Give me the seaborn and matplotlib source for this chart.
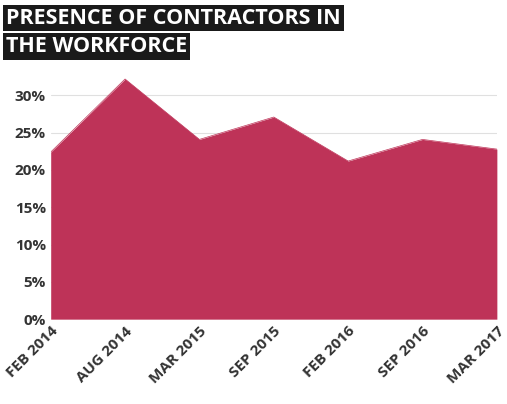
import matplotlib
matplotlib.use("Agg")
import matplotlib.pyplot as plt
import seaborn as sns
import pandas as pd

periods = ["FEB 2014", "AUG 2014", "MAR 2015", "SEP 2015", "FEB 2016", "SEP 2016", "MAR 2017"]
share = [22.4, 32.2, 24.1, 27.1, 21.2, 24.1, 22.8]
yticks = [0, 5, 10, 15, 20, 25, 30]

df = pd.DataFrame({"period": periods, "share": share, "pos": range(len(periods))})

sns.set_theme(style="white")
plt.rcParams["font.family"] = ["Open Sans", "DejaVu Sans"]

fig = plt.figure(figsize=(5.07, 4.04), dpi=100)
ax = fig.add_axes([0.1, 0.21, 0.88, 0.6])

sns.lineplot(data=df, x="pos", y="share", ax=ax, color="#BE3358", linewidth=0.5)
ax.fill_between(df["pos"], df["share"], 0, color="#BE3358", linewidth=0)

ax.set_xlim(0, len(periods) - 1)
ax.set_ylim(0, 32.5)
ax.set_yticks(yticks)
ax.set_yticklabels([f"{v}%" for v in yticks], fontsize=11, fontweight="bold", color="#333333")
ax.set_xticks(df["pos"])
ax.set_xticklabels(periods, rotation=45, ha="right", rotation_mode="anchor",
                   fontsize=11, fontweight="bold", color="#333333")
ax.set_xlabel("")
ax.set_ylabel("")
ax.yaxis.grid(True, color="#e0e0e0", linewidth=0.8)
ax.set_axisbelow(True)
for s in ax.spines.values():
    s.set_visible(False)
ax.tick_params(length=0)

box = dict(facecolor="#1a1a1a", edgecolor="none", pad=2)
fig.text(0.012, 0.955, "PRESENCE OF CONTRACTORS IN", fontsize=15.5, fontweight="bold",
         color="white", bbox=box, va="center")
fig.text(0.012, 0.885, "THE WORKFORCE", fontsize=15.5, fontweight="bold",
         color="white", bbox=box, va="center")

fig.savefig("out.png", dpi=100)
